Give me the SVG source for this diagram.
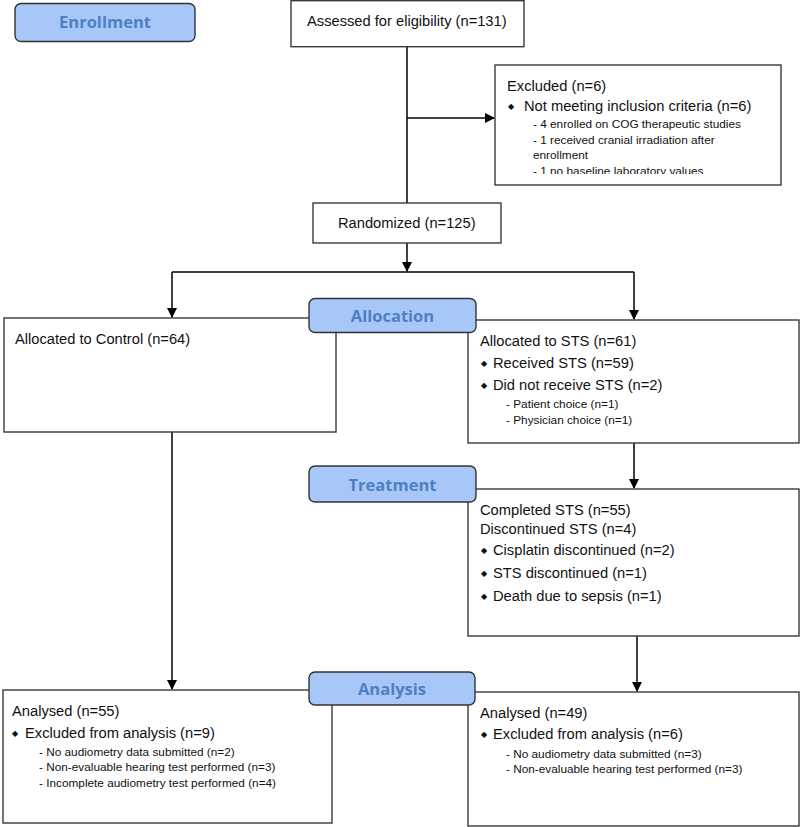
<svg xmlns="http://www.w3.org/2000/svg" width="800" height="827" viewBox="0 0 800 827">
<style>
.box{fill:#fff;stroke:#3a3a3a;stroke-width:1.4}
.lab{fill:#a8c7f9;stroke:#333;stroke-width:1.4}
.lt{font-family:"Open Sans","Liberation Sans",sans-serif;font-weight:bold;font-size:16.5px;fill:#4f80c0;text-anchor:middle}
.t{font-family:"Liberation Sans",Arial,sans-serif;font-size:14.7px;fill:#111}
.s{font-family:"Liberation Sans",Arial,sans-serif;font-size:11.8px;fill:#111}
.b{font-family:"DejaVu Sans",sans-serif;font-size:8px;fill:#111}
.c{fill:none;stroke:#000;stroke-width:1.5}
</style>
<defs>
<marker id="ah" markerWidth="10" markerHeight="10" refX="9" refY="5" orient="auto" markerUnits="userSpaceOnUse">
<path d="M0,0 L10,5 L0,10 z" fill="#000"/>
</marker>
<clipPath id="exclip"><rect x="495" y="65" width="286" height="109"/></clipPath>
</defs>
<rect width="800" height="827" fill="#fff"/>

<g id="connectors">
<path class="c" d="M407,47 V203"/>
<path class="c" d="M407,118 H494" marker-end="url(#ah)"/>
<path class="c" d="M407,243 V271" marker-end="url(#ah)"/>
<path class="c" d="M172,272 H634"/>
<path class="c" d="M172,272 V317" marker-end="url(#ah)"/>
<path class="c" d="M634,272 V319" marker-end="url(#ah)"/>
<path class="c" d="M634,443 V488" marker-end="url(#ah)"/>
<path class="c" d="M172,432 V689" marker-end="url(#ah)"/>
<path class="c" d="M637,636 V691" marker-end="url(#ah)"/>
</g>

<g id="assessed">
<rect class="box" x="291" y="0.7" width="233" height="46"/>
<text class="t" x="307" y="26">Assessed for eligibility (n=131)</text>
</g>

<g id="excluded">
<rect class="box" x="495" y="65" width="286" height="120"/>
<g clip-path="url(#exclip)">
<text class="t" x="507" y="91">Excluded (n=6)</text>
<text class="b" x="508" y="109">◆</text>
<text class="t" x="524" y="111">Not meeting inclusion criteria (n=6)</text>
<text class="s" x="533" y="128">- 4 enrolled on COG therapeutic studies</text>
<text class="s" x="533" y="144">- 1 received cranial irradiation after</text>
<text class="s" x="533" y="159">enrollment</text>
<text class="s" x="533" y="175">- 1 no baseline laboratory values</text>
</g>
</g>

<g id="randomized">
<rect class="box" x="313" y="203" width="188" height="40"/>
<text class="t" x="338" y="228">Randomized (n=125)</text>
</g>

<g id="control">
<rect class="box" x="4" y="318" width="332" height="114"/>
<text class="t" x="15" y="344">Allocated to Control (n=64)</text>
</g>

<g id="sts">
<rect class="box" x="468" y="320" width="331" height="123"/>
<text class="t" x="480" y="346">Allocated to STS (n=61)</text>
<text class="b" x="481" y="366">◆</text>
<text class="t" x="493" y="368">Received STS (n=59)</text>
<text class="b" x="481" y="388">◆</text>
<text class="t" x="493" y="390">Did not receive STS (n=2)</text>
<text class="s" x="506" y="408">- Patient choice (n=1)</text>
<text class="s" x="506" y="424">- Physician choice (n=1)</text>
</g>

<g id="treatment">
<rect class="box" x="468" y="489" width="331" height="147"/>
<text class="t" x="480" y="515">Completed STS (n=55)</text>
<text class="t" x="480" y="534">Discontinued STS (n=4)</text>
<text class="b" x="481" y="553">◆</text>
<text class="t" x="493" y="555">Cisplatin discontinued (n=2)</text>
<text class="b" x="481" y="576">◆</text>
<text class="t" x="493" y="578">STS discontinued (n=1)</text>
<text class="b" x="481" y="599">◆</text>
<text class="t" x="493" y="601">Death due to sepsis (n=1)</text>
</g>

<g id="analysed-control">
<rect class="box" x="3" y="690" width="329" height="133"/>
<text class="t" x="12" y="716">Analysed (n=55)</text>
<text class="b" x="12" y="736">◆</text>
<text class="t" x="25" y="738">Excluded from analysis (n=9)</text>
<text class="s" x="39" y="756">- No audiometry data submitted (n=2)</text>
<text class="s" x="39" y="771">- Non-evaluable hearing test performed (n=3)</text>
<text class="s" x="39" y="787">- Incomplete audiometry test performed (n=4)</text>
</g>

<g id="analysed-sts">
<rect class="box" x="468" y="692" width="331" height="134"/>
<text class="t" x="480" y="718">Analysed (n=49)</text>
<text class="b" x="481" y="737">◆</text>
<text class="t" x="493" y="739">Excluded from analysis (n=6)</text>
<text class="s" x="506" y="758">- No audiometry data submitted (n=3)</text>
<text class="s" x="506" y="773">- Non-evaluable hearing test performed (n=3)</text>
</g>

<g id="label-enrollment">
<rect class="lab" x="15" y="3.5" width="180" height="38" rx="6"/>
<text class="lt" x="105" y="28">Enrollment</text>
</g>
<g id="label-allocation">
<rect class="lab" x="309" y="298.5" width="167" height="34" rx="6"/>
<text class="lt" x="392.5" y="322">Allocation</text>
</g>
<g id="label-treatment">
<rect class="lab" x="309" y="466" width="167" height="36" rx="6"/>
<text class="lt" x="392.5" y="490.5">Treatment</text>
</g>
<g id="label-analysis">
<rect class="lab" x="309" y="672" width="166" height="33" rx="6"/>
<text class="lt" x="392" y="695">Analysis</text>
</g>
</svg>
